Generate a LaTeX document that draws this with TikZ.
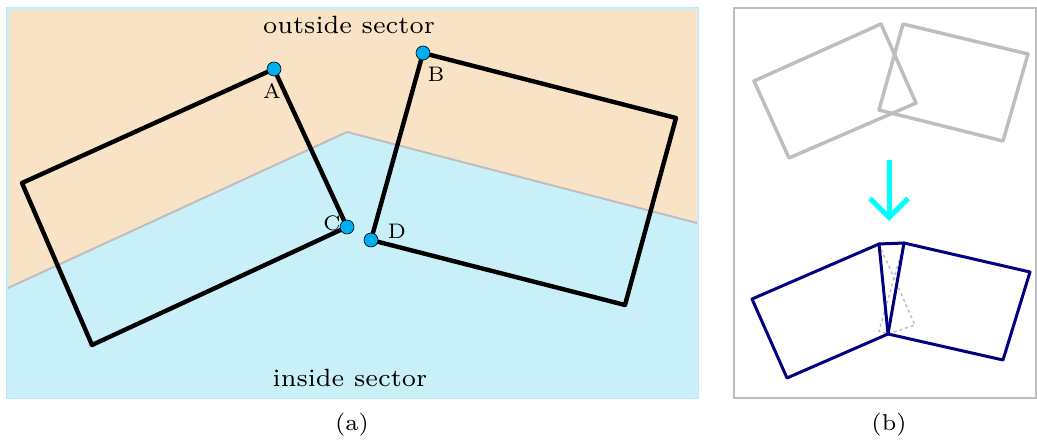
\documentclass[tikz,border=0pt]{standalone}
\usepackage{fontspec}
\usetikzlibrary{arrows.meta}
\newfontfamily\lmseven{lmroman7-regular.otf}
\definecolor{peach}{RGB}{248,227,198}
\definecolor{skyfill}{RGB}{201,239,248}
\definecolor{skyedge}{RGB}{190,234,246}
\definecolor{dotblue}{RGB}{0,174,239}
\definecolor{linegray}{RGB}{190,190,190}
\definecolor{navyline}{RGB}{0,0,128}
\definecolor{arrowcyan}{RGB}{0,255,255}
\tikzset{
  rectline/.style={line width=4.4pt, line join=round, line cap=round},
  ghost/.style={linegray, line width=3.5pt, line join=round, line cap=round},
  moved/.style={navyline, line width=3pt, line join=round, line cap=round},
  dot/.style={circle, fill=dotblue, draw=black, line width=0.6pt, minimum size=14pt, inner sep=0pt},
  lbl/.style={font=\lmseven\fontsize{21}{24}\selectfont, inner sep=0pt},
  big/.style={font=\lmseven\fontsize{25}{29}\selectfont, inner sep=0pt},
  captxt/.style={font=\lmseven\fontsize{23}{27}\selectfont, inner sep=0pt}
}
\begin{document}
\begin{tikzpicture}[x=1pt,y=-1pt]
\useasboundingbox (0,0) rectangle (1037,441);
% left panel background
\fill[skyfill] (6,7) rectangle (699,399);
\fill[peach] (9,10) -- (697,10) -- (697,223) -- (347,132) -- (9,287) -- cycle;
\draw[skyedge, line width=1pt] (6.5,7.5) rectangle (698.5,398.5);
\coordinate (s1) at (8,288);
\coordinate (s2) at (347,132);
\coordinate (s3) at (697,223);
\draw[linegray, line width=2pt] (s1) -- (s2) -- (s3);
% left rectangle
\coordinate (L1) at (22,183);
\coordinate (A) at (274,69);
\coordinate (C) at (347,227);
\coordinate (L4) at (92,345);
\draw[rectline] (L1) -- (A) -- (C) -- (L4) -- cycle;
% right rectangle
\coordinate (B) at (423,53);
\coordinate (R2) at (676,118);
\coordinate (R3) at (625,305);
\coordinate (D) at (371,240);
\draw[rectline] (B) -- (R2) -- (R3) -- (D) -- cycle;
\node[dot] (dA) at (A) {};
\node[dot] (dB) at (B) {};
\node[dot] (dC) at (C) {};
\node[dot] (dD) at (D) {};
\node[lbl] (tA) at (272,91) {A};
\node[lbl] (tB) at (436,74) {B};
\node[lbl] (tC) at (332,223) {C};
\node[lbl] (tD) at (397,231) {D};
\node[big] (out) at (349,25) {outside sector};
\node[big] (ins) at (350,378) {inside sector};
\node[captxt] (ca) at (352,425) {(a)};
% right panel
\draw[linegray, line width=1.5pt] (734,8) rectangle (1036,398);
\coordinate (g1) at (754,81);
\coordinate (g2) at (881,24);
\coordinate (g3) at (916,103);
\coordinate (g4) at (789,158);
\draw[ghost] (g1) -- (g2) -- (g3) -- (g4) -- cycle;
\coordinate (h1) at (903,24);
\coordinate (h2) at (1028,54);
\coordinate (h3) at (1003,141);
\coordinate (h4) at (879,110);
\draw[ghost] (h1) -- (h2) -- (h3) -- (h4) -- cycle;
\coordinate (arS) at (889,160);
\coordinate (arE) at (889,221);
\draw[arrowcyan, line width=5pt, -{Straight Barb[length=19pt,width=38pt]}] (arS) -- (arE);
% moved shapes
\coordinate (m1) at (752,299);
\coordinate (m2) at (879,244);
\coordinate (m3) at (888,334);
\coordinate (m4) at (787,378);
\coordinate (n1) at (904,243);
\coordinate (n2) at (1030,272);
\coordinate (n3) at (1003,360);
\coordinate (q1) at (915,325);
\coordinate (q2) at (879,331);
\draw[linegray, line width=1.5pt, dashed] (m2) -- (q1) -- (m3);
\draw[linegray, line width=1.5pt, dashed] (n1) -- (q2) -- (m3);
\draw[moved] (m1) -- (m2) -- (m3) -- (m4) -- cycle;
\draw[moved] (n1) -- (n2) -- (n3) -- (m3) -- cycle;
\draw[moved] (m2) -- (n1);
\node[captxt] (cb) at (889,425) {(b)};
\end{tikzpicture}
\end{document}
